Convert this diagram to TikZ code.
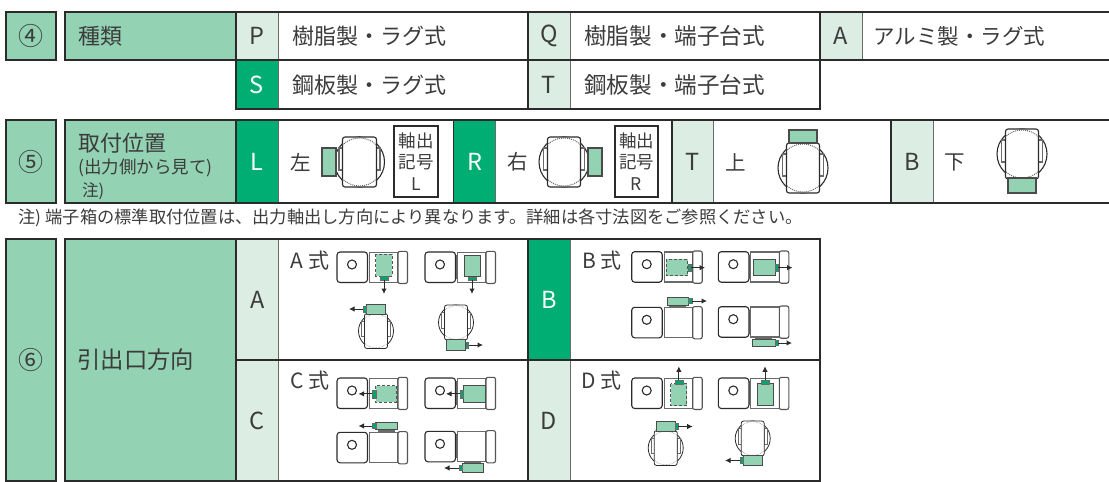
\documentclass[tikz,border=0pt]{standalone}
\usepackage{fontspec}
\setmainfont{Noto Sans CJK JP}
\usetikzlibrary{arrows.meta}
\definecolor{ink}{HTML}{2B2B2B}
\definecolor{txt}{HTML}{3C3C3C}
\definecolor{midg}{HTML}{93D2B3}
\definecolor{palg}{HTML}{DCEDE4}
\definecolor{strg}{HTML}{00AD72}
\definecolor{nubg}{HTML}{00A56E}
\definecolor{grayl}{HTML}{6A6A6A}
\tikzset{
  cellbox/.style={draw=grayl,line width=0.9pt,inner sep=0pt,outer sep=0pt,anchor=north west,text=txt,font=\fontsize{23.5}{24}\selectfont},
  framed/.style={draw=ink,line width=2pt},
  divider/.style={draw=ink,line width=1.6pt},
  lab/.style={inner sep=0pt,anchor=west,text=txt,font=\fontsize{22}{24}\selectfont},
  flow/.style={draw=ink,line width=1pt,-{Latex[length=5.5pt,width=5.5pt]}},
  gbdash/.style={fill=midg,draw=ink!80,line width=0.9pt,densely dashed},
  gbsolid/.style={fill=midg,draw=ink!85,line width=1pt},
  gbbig/.style={fill=midg,draw=ink!85,line width=1.5pt},
  mountb/.style={fill=grayl,draw=none},
  nubbox/.style={fill=nubg,draw=ink!70,line width=0.4pt,inner sep=0pt,outer sep=0pt,anchor=north west},
}
% name x1 y1 x2 y2 fill text
\newcommand\tcell[7]{\pgfmathsetmacro\cw{#4-#2}\pgfmathsetmacro\ch{#5-#3}%
  \node[cellbox,fill=#6,minimum width=\cw pt,minimum height=\ch pt] (#1) at (#2,#3) {#7};}
% x y hasConnector
\newcommand\msside[3]{\begin{scope}[shift={(#1,#2)}]
  \ifnum#3=1 \fill[grayl] (30,3) rectangle (33.5,27);\fi
  \draw[grayl,line width=1.1pt,fill=white] (32.5,0.3) rectangle (61,30.3);
  \draw[ink,line width=1.1pt,fill=white,rounded corners=3pt] (0,0) rectangle (30.5,30.5);
  \draw[ink!80,line width=1.1pt,fill=white,rounded corners=2pt] (61,-0.7) rectangle (70.5,31.5);
  \draw[ink,line width=1.1pt] (15,12.5) circle (4.5);
\end{scope}}
% cx cy scale hw linewidth dottedwidth
\newcommand\vend[6]{\begin{scope}[shift={(#1,#2)},scale=#3]
  \draw[ink,line width=#5] (0,0) circle (25);
  \draw[grayl,line width=#5,fill=white] (-20.5,-14) rectangle (-16,8);
  \draw[grayl,line width=#5,fill=white] (16,-14) rectangle (20.5,8);
  \draw[ink,line width=#5,fill=white,rounded corners=2.5pt] (-#4,-25) rectangle (#4,25);
  \begin{scope}
    \clip (-#4,-24.5) rectangle (#4,24.5);
    \draw[grayl,line width=#6,densely dotted] (0,0) circle (24);
  \end{scope}
\end{scope}}
% name x1 y1 x2 y2 dir(n,s,e,w) endvalue
\newcommand\nubout[7]{\pgfmathsetmacro\cw{#4-#2}\pgfmathsetmacro\ch{#5-#3}%
  \pgfmathsetmacro\mx{(#2+#4)/2}\pgfmathsetmacro\my{(#3+#5)/2}%
  \node[nubbox,minimum width=\cw pt,minimum height=\ch pt] (#1) at (#2,#3) {};
  \if#6e\coordinate (#1e) at (#7,\my);\draw[flow] (#1.east) -- (#1e);\fi
  \if#6w\coordinate (#1e) at (#7,\my);\draw[flow] (#1.west) -- (#1e);\fi
  \if#6n\coordinate (#1e) at (\mx,#7);\draw[flow] (#1.north) -- (#1e);\fi
  \if#6s\coordinate (#1e) at (\mx,#7);\draw[flow] (#1.south) -- (#1e);\fi}
\begin{document}
\begin{tikzpicture}[x=1pt,y=-1pt]
\useasboundingbox (0,0) rectangle (1109,482);
\fill[white] (0,0) rectangle (1109,482);
% ---- section boxes
\tcell{n4}{5.5}{12}{55.5}{60}{midg}{\fontsize{25}{26}\selectfont ④}
\tcell{n5}{5.5}{120}{55.5}{203}{midg}{\fontsize{25}{26}\selectfont ⑤}
\tcell{n6}{5.5}{239}{55.5}{481}{midg}{\fontsize{25}{26}\selectfont ⑥}
\foreach \nm in {n4,n5,n6}{\draw[framed] (\nm.north west) rectangle (\nm.south east);}
% ---- row 4
\tcell{kind}{65}{12}{236}{60}{midg}{}
\node[lab] (kindt) at (78,36) {種類};
\tcell{cP}{236}{12}{278}{60}{palg}{P}
\tcell{wP}{278}{12}{528}{60}{white}{}
\tcell{cQ}{528}{12}{570}{60}{palg}{Q}
\tcell{wQ}{570}{12}{820}{60}{white}{}
\tcell{cA}{820}{12}{862}{60}{palg}{A}
\tcell{wA}{862}{12}{1112}{60}{white}{}
\tcell{cS}{236}{60}{278}{109}{strg}{\textcolor{white}{S}}
\tcell{wS}{278}{60}{528}{109}{white}{}
\tcell{cT}{528}{60}{570}{109}{palg}{T}
\tcell{wT}{570}{60}{820}{109}{white}{}
\node[lab] (tP) at (292,36) {樹脂製・ラグ式};
\node[lab,font=\fontsize{22.6}{24}\selectfont] (tQ) at (584,36) {樹脂製・端子台式};
\node[lab,font=\fontsize{21.5}{24}\selectfont] (tA) at (873,36) {アルミ製・ラグ式};
\node[lab] (tS) at (292,85) {鋼板製・ラグ式};
\node[lab,font=\fontsize{22.6}{24}\selectfont] (tT) at (584,85) {鋼板製・端子台式};
\draw[framed] (1112,12) -- (65,12) -- (65,60) -- (1112,60);
\draw[framed] (236,60) -- (236,109) -- (820,109) -- (820,12);
\draw[divider] (236,12) -- (236,60) (528,12) -- (528,109);
% ---- row 5
\tcell{pos}{65}{120}{236}{203}{midg}{}
\node[lab] (post) at (78,143) {取付位置};
\node[lab,font=\fontsize{17.5}{18}\selectfont] (poss) at (78,167.5) {(出力側から見て)};
\node[lab,font=\fontsize{16.5}{18}\selectfont] (posn) at (82,191) {注)};
\tcell{cL}{236}{120}{278}{203}{strg}{\textcolor{white}{L}}
\tcell{wL}{278}{120}{453.5}{203}{white}{}
\tcell{cR}{453.5}{120}{495.5}{203}{strg}{\textcolor{white}{R}}
\tcell{wR}{495.5}{120}{671.7}{203}{white}{}
\tcell{cTT}{671.7}{120}{713.5}{203}{palg}{T}
\tcell{wTT}{713.5}{120}{891}{203}{white}{}
\tcell{cB}{891}{120}{933.5}{203}{palg}{B}
\tcell{wB}{933.5}{120}{1112}{203}{white}{}
\draw[framed] (1112,120) -- (65,120) -- (65,203) -- (1112,203);
\draw[divider] (236,120) -- (236,203) (453.5,120) -- (453.5,203) (671.7,120) -- (671.7,203) (891,120) -- (891,203);
\node[lab,font=\fontsize{20.5}{24}\selectfont] (tL) at (290,162) {左};
\node[lab,font=\fontsize{20.5}{24}\selectfont] (tR) at (507.5,162) {右};
\node[lab,font=\fontsize{20.5}{24}\selectfont] (tU) at (725,162) {上};
\node[lab,font=\fontsize{20.5}{24}\selectfont] (tD) at (944,162) {下};
\tikzset{shaft/.style={draw=ink,line width=1.8pt,fill=white,inner sep=0pt,outer sep=0pt,minimum width=43.5pt,minimum height=71pt,align=center,text=txt,font=\fontsize{17.5}{21.5}\selectfont}}
\node[shaft] (sL) at (416,161.5) {軸出\\記号\\L};
\node[shaft] (sR) at (636.5,161.5) {軸出\\記号\\R};
\vend{359.5}{162}{1}{17}{1.1pt}{1pt}
\draw[gbbig] (322,148) rectangle (336,176);
\vend{564}{162}{1}{16.5}{1.1pt}{1pt}
\draw[gbbig] (588,148) rectangle (602,176);
\vend{803}{168}{1}{16.5}{1.1pt}{1pt}
\draw[gbbig] (789,130) rectangle (817,143);
\vend{1022}{154}{1}{16.5}{1.1pt}{1pt}
\draw[gbbig] (1008,178) rectangle (1036,193);
% ---- note
\node[lab,font=\fontsize{17.25}{18}\selectfont] (note) at (18.5,217.5) {注) 端子箱の標準取付位置は、出力軸出し方向により異なります。詳細は各寸法図をご参照ください。};
% ---- row 6
\tcell{dir}{65}{239}{236}{481}{midg}{}
\node[lab,font=\fontsize{23.4}{26}\selectfont] (dirt) at (77,360) {引出口方向};
\tcell{cA6}{236}{239}{278.5}{360}{palg}{A}
\tcell{wA6}{278.5}{239}{528}{360}{white}{}
\tcell{cB6}{528}{239}{570}{360}{strg}{\textcolor{white}{B}}
\tcell{wB6}{570}{239}{819.5}{360}{white}{}
\tcell{cC6}{236}{360}{278.5}{481}{palg}{C}
\tcell{wC6}{278.5}{360}{528}{481}{white}{}
\tcell{cD6}{528}{360}{570}{481}{palg}{D}
\tcell{wD6}{570}{360}{819.5}{481}{white}{}
\draw[framed] (65,239) rectangle (819.5,481);
\draw[divider] (236,239) -- (236,481) (528,239) -- (528,481) (236,360) -- (819.5,360);
\node[lab,font=\fontsize{21}{24}\selectfont] (fA) at (290.5,261) {A 式};
\node[lab,font=\fontsize{21}{24}\selectfont] (fB) at (582,261) {B 式};
\node[lab,font=\fontsize{21}{24}\selectfont] (fC) at (290.5,381) {C 式};
\node[lab,font=\fontsize{21}{24}\selectfont] (fD) at (581,381) {D 式};
% A
\msside{337}{252}{0}
\draw[gbdash] (375.7,254.3) rectangle (392.3,276);
\nubout{a1}{380}{276}{388}{280}{s}{294}
\msside{425}{252}{1}
\draw[gbsolid] (464,255) rectangle (480,276.7);
\nubout{a2}{468}{276.7}{476}{280}{s}{294}
\vend{376}{331}{0.7}{16.5}{0.8pt}{0.5pt}
\draw[gbsolid] (366,304.3) rectangle (385.7,314.3);
\nubout{a3}{363.3}{306}{366}{312}{w}{349}
\vend{456}{322.5}{0.7}{16.5}{0.8pt}{0.5pt}
\draw[gbsolid] (446.7,339.3) rectangle (465.7,350);
\nubout{a4}{465.7}{342}{468.5}{348}{e}{483}
% B
\msside{631.7}{251.7}{0}
\draw[gbdash] (666,259.3) rectangle (687.7,275.7);
\nubout{b1}{687.7}{264.3}{691}{271}{e}{705}
\msside{718.3}{251.7}{1}
\draw[gbsolid] (753.3,259.3) rectangle (775,275.7);
\nubout{b2}{775}{264.3}{778}{271}{e}{792.5}
\msside{631.7}{307.3}{0}
\fill[mountb] (669,305) rectangle (686,307.3);
\draw[gbsolid] (667.3,297.3) rectangle (688.3,305);
\nubout{b3}{688.3}{298.5}{691.7}{303.5}{e}{707}
\msside{718.3}{306.7}{1}
\fill[mountb] (755,337) rectangle (772,339);
\draw[gbsolid] (752.7,339) rectangle (775,346.7);
\nubout{b4}{775}{340.5}{778}{345.5}{e}{792}
% C
\msside{337}{378}{0}
\draw[gbdash] (375.7,385.7) rectangle (396.7,402);
\nubout{c1}{372}{390}{375.7}{397.7}{w}{358.5}
\msside{425}{378}{1}
\draw[gbsolid] (463.3,385.7) rectangle (485.7,402);
\nubout{c2}{460}{390}{463.3}{397.7}{w}{446}
\msside{337}{432.3}{0}
\fill[mountb] (378,429.7) rectangle (395,432);
\draw[gbsolid] (375.7,422) rectangle (397.3,429.7);
\nubout{c3}{372.3}{423.5}{375.7}{428.5}{w}{358.5}
\msside{425}{431.3}{1}
\fill[mountb] (464,461.5) rectangle (481,463.7);
\draw[gbsolid] (462.3,463.7) rectangle (483.3,472);
\nubout{c4}{459}{465.5}{462.3}{470.5}{w}{444}
% D
\msside{631.7}{378}{0}
\draw[gbdash] (670.7,383.7) rectangle (686.7,405.7);
\nubout{d1}{675}{380.3}{682.7}{383.7}{n}{366.3}
\msside{718.3}{378}{1}
\draw[gbsolid] (757.3,383.7) rectangle (773.3,405.7);
\nubout{d2}{761}{380.3}{769}{383.7}{n}{366.3}
\vend{665.7}{448}{0.7}{16.5}{0.8pt}{0.5pt}
\draw[gbsolid] (656,421.3) rectangle (675,431.3);
\nubout{d3}{675}{423.5}{678}{429.5}{e}{692.7}
\vend{752.7}{438.5}{0.7}{16.5}{0.8pt}{0.5pt}
\draw[gbsolid] (743.3,455.7) rectangle (762.7,465.3);
\nubout{d4}{740}{457.5}{743.3}{463.5}{w}{725}
\end{tikzpicture}
\end{document}
